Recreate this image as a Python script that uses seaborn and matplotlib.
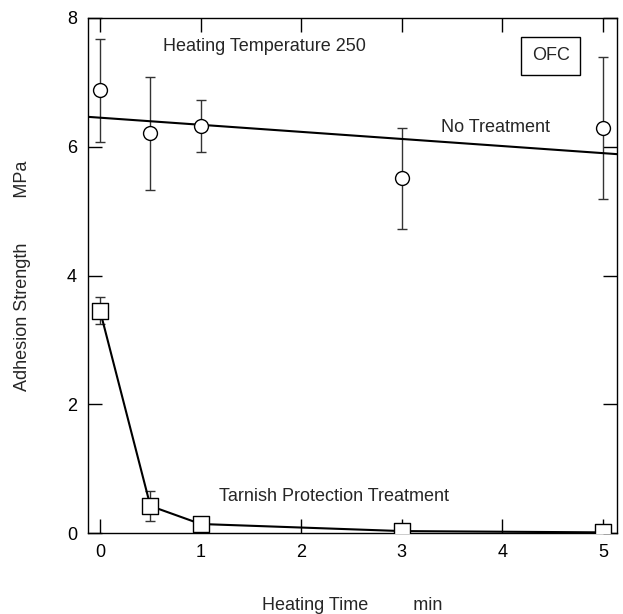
import numpy as np
import pandas as pd
import matplotlib
matplotlib.use("Agg")
import matplotlib.pyplot as plt
import seaborn as sns

# heating time (min)
time = [0, 0.5, 1, 3, 5]

# no treatment: mean and error
no_treat = [6.88, 6.21, 6.32, 5.51, 6.29]
no_treat_err = [0.80, 0.88, 0.40, 0.78, 1.10]

# tarnish protection treatment
tarnish = [3.45, 0.42, 0.14, 0.03, 0.01]
tarnish_err = [0.21, 0.23, 0.0, 0.07, 0.08]

df_no = pd.DataFrame({"time": time, "strength": no_treat, "err": no_treat_err})
df_tp = pd.DataFrame({"time": time, "strength": tarnish, "err": tarnish_err})

sns.set_style("ticks")
plt.rcParams['font.family'] = ['Liberation Sans', 'DejaVu Sans']
plt.rcParams['font.size'] = 13

fig = plt.figure(figsize=(6.23, 6.14), dpi=100)
ax = fig.add_axes([0.1413, 0.1319, 0.8491, 0.8388])
ax.set_xlim(-0.12, 5.14)
ax.set_ylim(0, 8)

# error bars (behind markers)
ax.errorbar(df_no["time"], df_no["strength"], yerr=df_no["err"], fmt="none",
            ecolor="#333333", elinewidth=1, capsize=3.5, capthick=1, zorder=2)
ax.errorbar(df_tp["time"], df_tp["strength"], yerr=df_tp["err"], fmt="none",
            ecolor="#333333", elinewidth=1, capsize=3.5, capthick=1, zorder=2)

# linear fit for no treatment, across the full axis
sns.regplot(data=df_no, x="time", y="strength", ax=ax, scatter=False, ci=None,
            truncate=False, line_kws=dict(color="black", lw=1.5, zorder=3))

# connecting line for tarnish protection
sns.lineplot(data=df_tp, x="time", y="strength", ax=ax, sort=False,
             color="black", lw=1.5, zorder=3)

sns.scatterplot(data=df_no, x="time", y="strength", ax=ax, marker="o", s=100,
                facecolor="white", edgecolor="black", linewidth=1, zorder=4)
sns.scatterplot(data=df_tp, x="time", y="strength", ax=ax, marker="s", s=120,
                facecolor="white", edgecolor="black", linewidth=1, zorder=4)

ax.set_xticks([0, 1, 2, 3, 4, 5])
ax.set_yticks([0, 2, 4, 6, 8])
ax.tick_params(direction="in", length=10, width=1, top=True, right=True,
               labelsize=13, pad=8, colors="black")
for s in ax.spines.values():
    s.set_visible(True)
    s.set_color("black")
    s.set_linewidth(1)

ax.set_xlabel("Heating Time         min", fontsize=13, labelpad=26)
ax.set_ylabel("Adhesion Strength         MPa", fontsize=13, labelpad=26)

ax.text(0.63, 7.55, "Heating Temperature 250", fontsize=13, va="center")
ax.text(4.48, 7.41, "OFC", fontsize=13, ha="center", va="center",
        bbox=dict(boxstyle="square,pad=0.6", facecolor="white", edgecolor="black", lw=1))
ax.text(3.39, 6.30, "No Treatment", fontsize=13, va="center")
ax.text(1.18, 0.56, "Tarnish Protection Treatment", fontsize=13, va="center")

fig.savefig("out.png", dpi=100)
